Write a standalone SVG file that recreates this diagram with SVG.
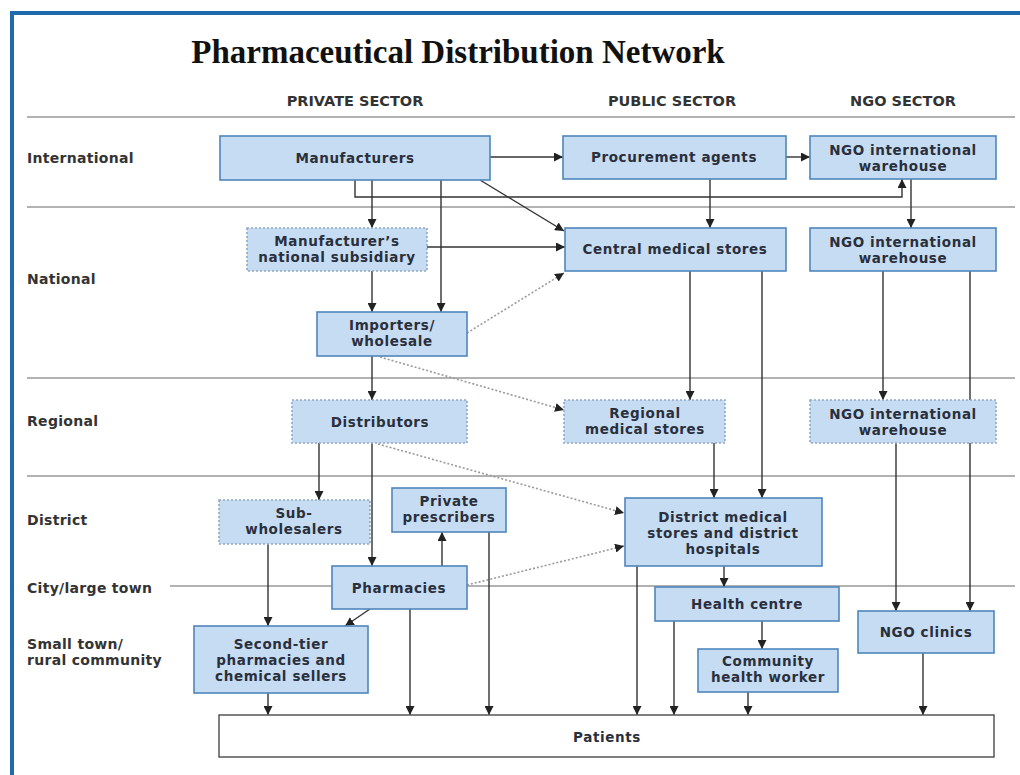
<svg xmlns="http://www.w3.org/2000/svg" width="1020" height="775" viewBox="0 0 1020 775">
<style>
.t{font-family:"DejaVu Sans","Liberation Sans",sans-serif;font-weight:700;font-size:13.5px;letter-spacing:0.6px;fill:#2a2f3c;text-anchor:middle}
.r{font-family:"DejaVu Sans","Liberation Sans",sans-serif;font-weight:700;font-size:14px;letter-spacing:0.3px;fill:#333;text-anchor:start}
.h{font-family:"DejaVu Sans","Liberation Sans",sans-serif;font-weight:700;font-size:14.5px;fill:#333;text-anchor:middle}
.b{fill:#c6dcf2;stroke:#4f86bb;stroke-width:1.6}
.d{fill:#c6dcf2;stroke:#8fa8c8;stroke-width:1.6;stroke-dasharray:2 2}
.p{fill:#fff;stroke:#555;stroke-width:1.5}
.g{stroke:#999;stroke-width:1.5;fill:none}
.c2{stroke:#333;stroke-width:1.4;fill:none;marker-end:url(#a)}
.dt{stroke:#9a9a9a;stroke-width:1.6;fill:none;stroke-dasharray:2 2;marker-end:url(#a)}
</style>
<defs>
<marker id="a" viewBox="0 0 10 10" refX="10" refY="5" markerWidth="9" markerHeight="9" markerUnits="userSpaceOnUse" orient="auto">
<path d="M0,0 L10,5 L0,10 z" fill="#222"/>
</marker>
</defs>
<rect width="1020" height="775" fill="#fff"/>
<path d="M12,775 V13 H1020" fill="none" stroke="#1f6aad" stroke-width="4"/>
<text x="458" y="63" font-family="Liberation Serif,serif" font-weight="700" font-size="33" fill="#111" text-anchor="middle">Pharmaceutical Distribution Network</text>

<g id="headers">
<text class="h" x="355" y="106">PRIVATE SECTOR</text>
<text class="h" x="672" y="106">PUBLIC SECTOR</text>
<text class="h" x="903" y="106">NGO SECTOR</text>
</g>
<g id="grid">
<line class="g" x1="27" y1="117" x2="1015" y2="117"/>
<line class="g" x1="27" y1="207" x2="1015" y2="207"/>
<line class="g" x1="27" y1="378" x2="1015" y2="378"/>
<line class="g" x1="27" y1="476" x2="1015" y2="476"/>
<line class="g" x1="170" y1="586" x2="1015" y2="586"/>
</g>
<g id="rows">
<text class="r" x="27" y="163">International</text>
<text class="r" x="27" y="284">National</text>
<text class="r" x="27" y="426">Regional</text>
<text class="r" x="27" y="525">District</text>
<text class="r" x="27" y="593">City/large town</text>
<text class="r" x="27" y="649">Small town/</text>
<text class="r" x="27" y="665">rural community</text>
</g>

<g id="connectors">
<path class="c2" d="M490,157 H563"/>
<path class="c2" d="M786,157 H810"/>
<path class="c2" d="M372,180 V228"/>
<path class="c2" d="M355,180 V197 H902 V179"/>
<path class="c2" d="M441,180 V312"/>
<path class="c2" d="M480,180 L564,231"/>
<path class="c2" d="M710,179 V228"/>
<path class="c2" d="M911,179 V228"/>
<path class="c2" d="M427,247 H565"/>
<path class="c2" d="M372,271 V312"/>
<path class="dt" d="M467,333 L564,273"/>
<path class="dt" d="M380,357 L564,410"/>
<path class="c2" d="M372,356 V400"/>
<path class="c2" d="M690,271 V400"/>
<path class="c2" d="M762,271 V498"/>
<path class="c2" d="M883,271 V400"/>
<path class="c2" d="M970,271 V611"/>
<path class="c2" d="M896,443 V611"/>
<path class="c2" d="M714,443 V498"/>
<path class="c2" d="M319,443 V500"/>
<path class="c2" d="M372,443 V566"/>
<path class="dt" d="M378,444 L624,513"/>
<path class="dt" d="M467,585 L624,546"/>
<path class="c2" d="M442,566 V532"/>
<path class="c2" d="M268,544 V626"/>
<path class="c2" d="M370,609 L345,626"/>
<path class="c2" d="M268,693 V715"/>
<path class="c2" d="M410,609 V715"/>
<path class="c2" d="M489,532 V715"/>
<path class="c2" d="M637,566 V715"/>
<path class="c2" d="M724,566 V587"/>
<path class="c2" d="M674,621 V715"/>
<path class="c2" d="M762,621 V649"/>
<path class="c2" d="M748,692 V715"/>
<path class="c2" d="M923,653 V715"/>
</g>

<g id="manufacturers"><rect class="b" x="220" y="136" width="270" height="44"/><text class="t" x="355" y="163">Manufacturers</text></g>
<g id="procurement"><rect class="b" x="563" y="136" width="223" height="43"/><text class="t" x="674" y="162">Procurement agents</text></g>
<g id="ngo-intl-1"><rect class="b" x="810" y="136" width="186" height="43"/><text class="t" x="903" y="155">NGO international</text><text class="t" x="903" y="171">warehouse</text></g>
<g id="subsidiary"><rect class="d" x="247" y="228" width="180" height="43"/><text class="t" x="337" y="246">Manufacturer’s</text><text class="t" x="337" y="262">national subsidiary</text></g>
<g id="central"><rect class="b" x="565" y="228" width="221" height="43"/><text class="t" x="675" y="254">Central medical stores</text></g>
<g id="ngo-intl-2"><rect class="b" x="810" y="228" width="186" height="43"/><text class="t" x="903" y="247">NGO international</text><text class="t" x="903" y="263">warehouse</text></g>
<g id="importers"><rect class="b" x="317" y="312" width="150" height="44"/><text class="t" x="392" y="330">Importers/</text><text class="t" x="392" y="346">wholesale</text></g>
<g id="distributors"><rect class="d" x="292" y="400" width="175" height="43"/><text class="t" x="380" y="427">Distributors</text></g>
<g id="regional"><rect class="d" x="564" y="400" width="161" height="43"/><text class="t" x="645" y="418">Regional</text><text class="t" x="645" y="434">medical stores</text></g>
<g id="ngo-intl-3"><rect class="d" x="810" y="400" width="186" height="43"/><text class="t" x="903" y="419">NGO international</text><text class="t" x="903" y="435">warehouse</text></g>
<g id="subwholesalers"><rect class="d" x="219" y="500" width="151" height="44"/><text class="t" x="294" y="518">Sub-</text><text class="t" x="294" y="534">wholesalers</text></g>
<g id="prescribers"><rect class="b" x="392" y="488" width="114" height="44"/><text class="t" x="449" y="506">Private</text><text class="t" x="449" y="522">prescribers</text></g>
<g id="pharmacies"><rect class="b" x="332" y="566" width="135" height="43"/><text class="t" x="399" y="593">Pharmacies</text></g>
<g id="secondtier"><rect class="b" x="194" y="626" width="174" height="67"/><text class="t" x="281" y="649">Second-tier</text><text class="t" x="281" y="665">pharmacies and</text><text class="t" x="281" y="681">chemical sellers</text></g>
<g id="district"><rect class="b" x="625" y="498" width="197" height="68"/><text class="t" x="723" y="522">District medical</text><text class="t" x="723" y="538">stores and district</text><text class="t" x="723" y="554">hospitals</text></g>
<g id="healthcentre"><rect class="b" x="655" y="587" width="184" height="34"/><text class="t" x="747" y="609">Health centre</text></g>
<g id="chw"><rect class="b" x="698" y="649" width="140" height="43"/><text class="t" x="768" y="666">Community</text><text class="t" x="768" y="682">health worker</text></g>
<g id="ngoclinics"><rect class="b" x="858" y="611" width="136" height="42"/><text class="t" x="926" y="637">NGO clinics</text></g>
<g id="patients"><rect class="p" x="219" y="715" width="775" height="42"/><text class="t" x="607" y="742">Patients</text></g>
</svg>
